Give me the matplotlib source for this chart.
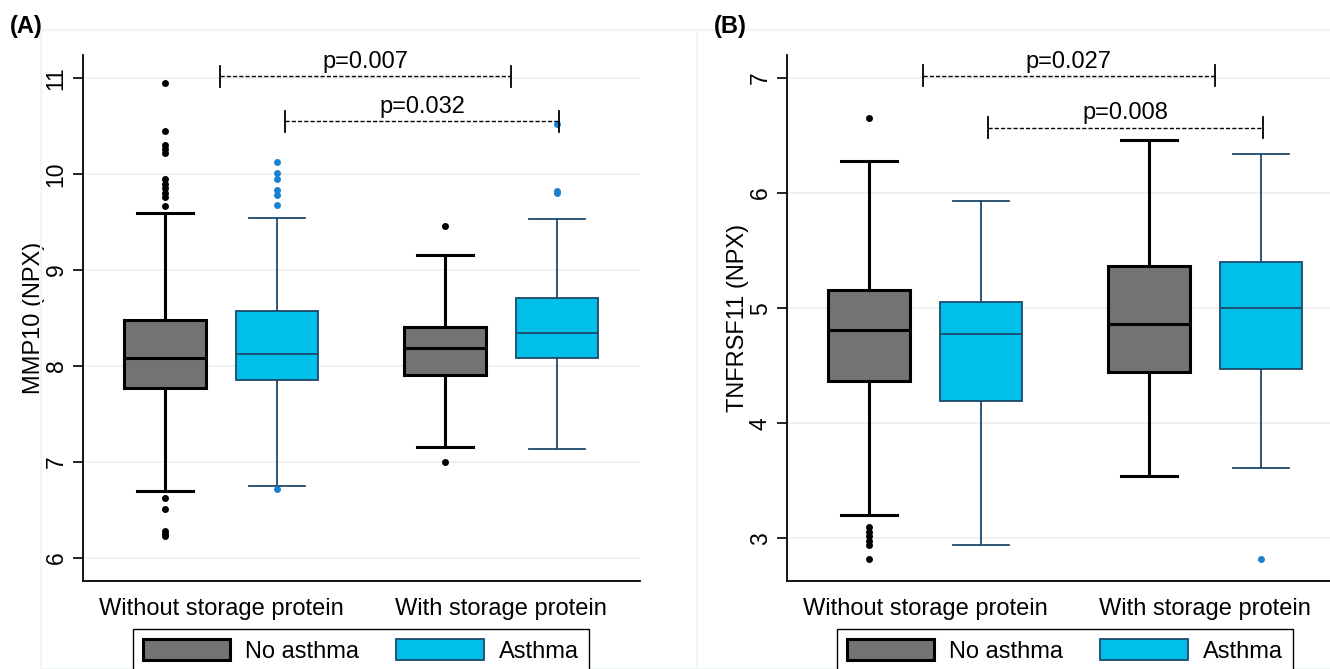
import matplotlib.pyplot as plt
from matplotlib.patches import Patch, Rectangle

plt.rcParams['font.family'] = ['Liberation Sans', 'DejaVu Sans']

groups = ['Without storage protein', 'With storage protein']
legend_labels = ['No asthma', 'Asthma']

# box stats: (whislo, q1, med, q3, whishi)
mmp10_stats = [
    (6.70, 7.77, 8.08, 8.48, 9.59),   # no asthma, without
    (6.75, 7.85, 8.13, 8.57, 9.54),   # asthma, without
    (7.16, 7.91, 8.19, 8.41, 9.16),   # no asthma, with
    (7.14, 8.08, 8.34, 8.71, 9.53),   # asthma, with
]
mmp10_fliers = [
    [10.95, 10.45, 10.30, 10.26, 10.22, 9.95, 9.90, 9.85, 9.80, 9.76, 9.67, 6.63, 6.51, 6.28, 6.25, 6.23],
    [10.13, 10.01, 9.95, 9.83, 9.78, 9.68, 6.72],
    [9.46, 7.00],
    [10.52, 9.82, 9.80],
]
tnf_stats = [
    (3.20, 4.37, 4.81, 5.16, 6.28),
    (2.94, 4.19, 4.78, 5.05, 5.93),
    (3.54, 4.45, 4.86, 5.37, 6.46),
    (3.61, 4.47, 5.00, 5.40, 6.34),
]
tnf_fliers = [
    [6.65, 3.10, 3.06, 3.02, 2.98, 2.94, 2.82],
    [],
    [],
    [2.82],
]
# brackets: (x start, x end, y, label)
mmp10_brackets = [(1.49, 4.09, 11.02, 'p=0.007'), (2.07, 4.52, 10.55, 'p=0.032')]
tnf_brackets = [(1.48, 4.09, 7.02, 'p=0.027'), (2.06, 4.52, 6.57, 'p=0.008')]

positions = [1, 2, 3.5, 4.5]
gray = '#737373'
cyan = '#00bfe8'
navy = '#1d4a6b'
dot_blue = '#1a80d0'
grid_c = '#e6f0f2'

fig = plt.figure(figsize=(13.3, 6.69), dpi=100)
fig.patches.append(Rectangle((0.031, 0.0), 0.97, 0.955, transform=fig.transFigure,
                             fill=False, edgecolor='#f0f5f6', lw=1.5))
fig.patches.append(Rectangle((0.524, 0.0), 0.5, 0.955, transform=fig.transFigure,
                             fill=False, edgecolor='#f0f5f6', lw=1.5))


def panel(left, stats, fliers, brackets, ylim, yticks, ylabel, tag):
    ax = fig.add_axes([left, 0.1315, 0.4188, 0.7863])
    for i, (s, fl, pos) in enumerate(zip(stats, fliers, positions)):
        asthma = i % 2 == 1
        d = dict(whislo=s[0], q1=s[1], med=s[2], q3=s[3], whishi=s[4], fliers=fl)
        ec = navy if asthma else 'black'
        lw = 1.3 if asthma else 2.2
        ax.bxp([d], positions=[pos], widths=0.73, patch_artist=True,
               boxprops=dict(facecolor=cyan if asthma else gray, edgecolor=ec, linewidth=lw),
               medianprops=dict(color=ec, linewidth=lw),
               whiskerprops=dict(color=ec, linewidth=lw),
               capprops=dict(color=ec, linewidth=lw),
               capwidths=0.5,
               flierprops=dict(marker='o', markersize=5,
                               markerfacecolor=dot_blue if asthma else 'black',
                               markeredgecolor='none'),
               manage_ticks=False)
    for x0, x1, y, lab in brackets:
        ax.plot([x0, x1], [y, y], ls=(0, (3, 1.5)), color='black', lw=1)
        h = (ylim[1] - ylim[0]) * 0.02
        for x in (x0, x1):
            ax.plot([x, x], [y - h, y + h], color='black', lw=1.3)
        ax.text((x0 + x1) / 2, y + h * 0.3, lab, ha='center', va='bottom', fontsize=17)
    ax.set_xlim(0.268, 5.241)
    ax.set_ylim(*ylim)
    ax.set_yticks(yticks)
    ax.set_yticklabels([str(t) for t in yticks], rotation=90, va='center', fontsize=16.5)
    ax.grid(axis='y', color=grid_c, lw=1.2)
    ax.set_axisbelow(True)
    ax.set_xticks([1.5, 4.0])
    ax.set_xticklabels(groups, fontsize=17)
    ax.tick_params(axis='x', length=0, pad=12)
    ax.tick_params(axis='y', length=7, width=1.2, pad=4)
    ax.spines['top'].set_visible(False)
    ax.spines['right'].set_visible(False)
    ax.spines['left'].set_linewidth(1.3)
    ax.spines['bottom'].set_linewidth(1.3)
    ax.set_ylabel(ylabel, fontsize=17, labelpad=0)
    fig.text(left - 0.055, 0.96, tag, fontsize=17, fontweight='bold', va='center')
    handles = [Patch(facecolor=gray, edgecolor='black', lw=2.2),
               Patch(facecolor=cyan, edgecolor=navy, lw=1.3)]
    fig.legend(handles, legend_labels, loc='upper left',
               bbox_to_anchor=(left + 0.0376, 0.0598), borderaxespad=0,
               ncol=2, fontsize=17,
               frameon=True, fancybox=False, edgecolor='black', framealpha=1,
               handlelength=3.7, handleheight=1.0, columnspacing=1.57,
               handletextpad=0.64, borderpad=0.42)
    return ax


panel(0.0624, mmp10_stats, mmp10_fliers, mmp10_brackets, (5.76, 11.24),
      [6, 7, 8, 9, 10, 11], 'MMP10 (NPX)', '(A)')
panel(0.5917, tnf_stats, tnf_fliers, tnf_brackets, (2.63, 7.2),
      [3, 4, 5, 6, 7], 'TNFRSF11 (NPX)', '(B)')

fig.savefig('out.png', dpi=100)
